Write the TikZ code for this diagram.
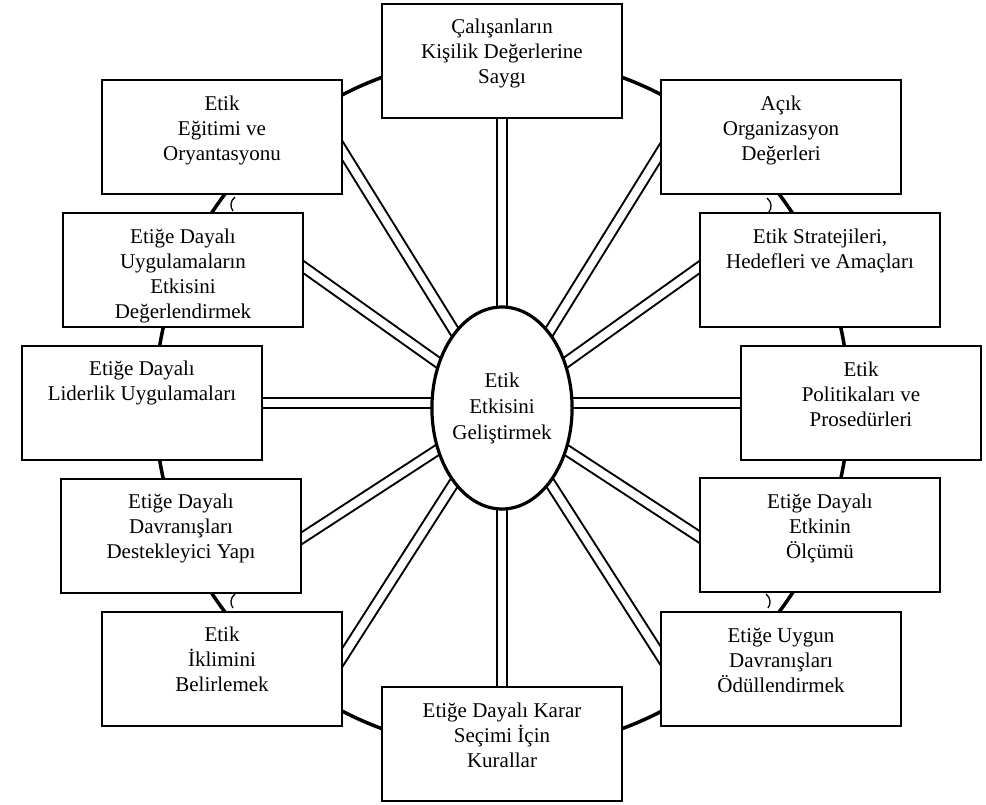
\documentclass[tikz,border=0pt]{standalone}
\usepackage{fontspec}
\setmainfont{Liberation Serif}
\usetikzlibrary{shapes.geometric,calc}
\pgfdeclarelayer{bg}
\pgfsetlayers{bg,main}
\begin{document}
\begin{tikzpicture}[x=1pt,y=-1pt,
  box/.style={draw, line width=2pt, fill=white, minimum width=240pt, minimum height=114pt, inner sep=0pt},
  txt/.style={anchor=north, inner sep=0pt, align=center, font=\fontsize{21}{25}\selectfont},
  ell/.style={ellipse, draw, line width=3.2pt, fill=white, minimum width=140pt, minimum height=202pt, inner sep=0pt, align=center, font=\fontsize{21}{26}\selectfont},
  conn/.style={draw=black, double=white, double distance=8pt, line width=2pt},
  ring/.style={line width=3.5pt},
  tick/.style={line width=1.3pt}]
\useasboundingbox (0,0) rectangle (986,804);

% boxes
\node[box] (T)  at (502,60.5) {};
\node[box] (EE) at (222,137) {};
\node[box] (AO) at (781,137) {};
\node[box] (UY) at (183,270) {};
\node[box] (ST) at (820,270) {};
\node[box] (LI) at (142,402.5) {};
\node[box] (PO) at (861,403) {};
\node[box] (DA) at (181,535.5) {};
\node[box] (OL) at (820,535) {};
\node[box] (IK) at (222,668.5) {};
\node[box] (OD) at (781,669) {};
\node[box] (B)  at (502,744) {};

% texts
\node[txt] (tT)  at ($(T.north)+(0,16.5)$)  {Çalışanların\\Kişilik Değerlerine\\Saygı};
\node[txt] (tEE) at ($(EE.north)+(0,16.5)$) {Etik\\Eğitimi ve\\Oryantasyonu};
\node[txt] (tAO) at ($(AO.north)+(0,16.5)$) {Açık\\Organizasyon\\Değerleri};
\node[txt] (tUY) at ($(UY.north)+(0,16.5)$) {Etiğe Dayalı\\Uygulamaların\\Etkisini\\Değerlendirmek};
\node[txt] (tST) at ($(ST.north)+(0,16.5)$) {Etik Stratejileri,\\Hedefleri ve Amaçları};
\node[txt] (tLI) at ($(LI.north)+(0,16.5)$) {Etiğe Dayalı\\Liderlik Uygulamaları};
\node[txt] (tPO) at ($(PO.north)+(0,16.5)$) {Etik\\Politikaları ve\\Prosedürleri};
\node[txt] (tDA) at ($(DA.north)+(0,16.5)$) {Etiğe Dayalı\\Davranışları\\Destekleyici Yapı};
\node[txt] (tOL) at ($(OL.north)+(0,16.5)$) {Etiğe Dayalı\\Etkinin\\Ölçümü};
\node[txt] (tIK) at ($(IK.north)+(0,16.5)$) {Etik\\İklimini\\Belirlemek};
\node[txt] (tOD) at ($(OD.north)+(0,16.5)$) {Etiğe Uygun\\Davranışları\\Ödüllendirmek};
\node[txt] (tB)  at ($(B.north)+(0,16.5)$)  {Etiğe Dayalı Karar\\Seçimi İçin\\Kurallar};

% centre
\node[ell] (E) at (502,408) {Etik\\Etkisini\\Geliştirmek};

% edge points of the spokes
\coordinate (pEE) at (342,150);
\coordinate (pAO) at (662,150);
\coordinate (pUY) at (302,266);
\coordinate (pST) at (701,266);
\coordinate (pDA) at (302,538);
\coordinate (pOL) at (701,538);
\coordinate (pIK) at (342,658);
\coordinate (pOD) at (662,658);

\begin{pgfonlayer}{bg}
  \fill[white] (0,0) rectangle (986,804);
  \draw[ring] (502,403) circle[radius=347pt];
  \draw[conn] (E.center) -- (T.center);
  \draw[conn] (E.center) -- (B.center);
  \draw[conn] (E.center |- LI.center) -- (LI.center);
  \draw[conn] (E.center |- PO.center) -- (PO.center);
  \draw[conn] (E.center) -- ($(E.center)!1.15!(pEE)$);
  \draw[conn] (E.center) -- ($(E.center)!1.15!(pAO)$);
  \draw[conn] (E.center) -- ($(E.center)!1.15!(pUY)$);
  \draw[conn] (E.center) -- ($(E.center)!1.15!(pST)$);
  \draw[conn] (E.center) -- ($(E.center)!1.15!(pDA)$);
  \draw[conn] (E.center) -- ($(E.center)!1.15!(pOL)$);
  \draw[conn] (E.center) -- ($(E.center)!1.15!(pIK)$);
  \draw[conn] (E.center) -- ($(E.center)!1.15!(pOD)$);
\end{pgfonlayer}

% small marks
\draw[tick] (235,197) .. controls (230,201) and (230,207) .. (233,211);
\draw[tick] (767,198) .. controls (772,202) and (772,208) .. (769,212);
\draw[tick] (235,594) .. controls (230,598) and (230,604) .. (233,608);
\draw[tick] (766,594) .. controls (771,598) and (771,604) .. (768,608);
\end{tikzpicture}
\end{document}
